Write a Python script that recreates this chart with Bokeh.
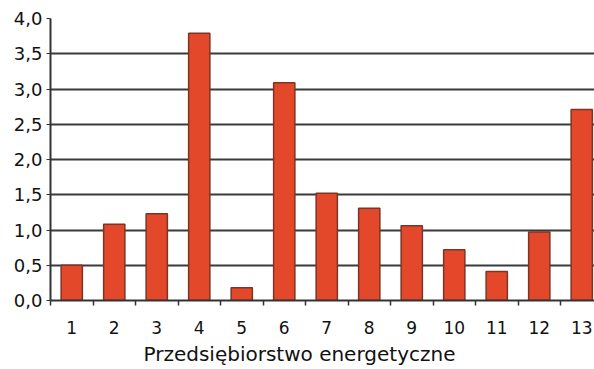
from bokeh.plotting import figure
from bokeh.models import FixedTicker, Range1d, ColumnDataSource, Title
from bokeh.embed import file_html
from bokeh.resources import INLINE

companies = list(range(1, 14))
values = [0.50, 1.08, 1.23, 3.79, 0.18, 3.09, 1.52, 1.31, 1.06, 0.72, 0.41, 0.97, 2.71]
y_ticks = [0.0, 0.5, 1.0, 1.5, 2.0, 2.5, 3.0, 3.5, 4.0]
y_labels = {t: f"{t:.1f}".replace(".", ",") for t in y_ticks}
x_title = "Przedsiębiorstwo energetyczne"

src = ColumnDataSource(dict(x=companies, top=values))

p = figure(width=594, height=369, output_backend="svg", toolbar_location=None,
           x_range=Range1d(0.5, 13.3), y_range=Range1d(0, 4.0),
           min_border_left=50, min_border_right=0, min_border_top=18, min_border_bottom=69)
p.outline_line_color = None
p.background_fill_color = "white"

p.vbar(x="x", top="top", width=0.5, source=src, fill_color="#e4482b",
       line_color="#7e3424", line_width=1.5)

p.xgrid.visible = False
p.ygrid.ticker = FixedTicker(ticks=y_ticks)
p.ygrid.grid_line_color = "#3a3a3a"
p.ygrid.grid_line_width = 2
p.ygrid.level = "underlay"

p.yaxis.ticker = FixedTicker(ticks=y_ticks)
p.yaxis.major_label_overrides = y_labels
p.yaxis.major_label_text_font = "DejaVu Sans"
p.yaxis.major_label_text_font_size = "18px"
p.yaxis.major_label_text_color = "#111111"
p.yaxis.axis_line_color = "#333333"
p.yaxis.axis_line_width = 2
p.yaxis.major_tick_out = 4
p.yaxis.major_tick_in = 0
p.yaxis.major_tick_line_color = "#333333"
p.yaxis.minor_tick_line_color = None
p.yaxis.major_label_standoff = 4

p.xaxis.ticker = FixedTicker(ticks=companies, minor_ticks=[c - 0.5 for c in companies] + [13.5])
p.xaxis.major_tick_line_color = None
p.xaxis.major_tick_out = 0
p.xaxis.minor_tick_out = 5
p.xaxis.minor_tick_in = 0
p.xaxis.minor_tick_line_color = "#333333"
p.xaxis.minor_tick_line_width = 1.5
p.xaxis.axis_line_color = "#333333"
p.xaxis.axis_line_width = 2
p.xaxis.major_label_text_font = "DejaVu Sans"
p.xaxis.major_label_text_font_size = "17px"
p.xaxis.major_label_text_color = "#111111"
p.xaxis.major_label_standoff = 15

# axis title, placed as in the reference (centred on the whole image)
title = Title(text=x_title, align="left", offset=93, standoff=7,
              text_font="DejaVu Sans", text_font_size="20px", text_font_style="normal",
              text_color="#111111")
p.add_layout(title, "below")

open("out.html", "w").write(file_html(p, INLINE))
